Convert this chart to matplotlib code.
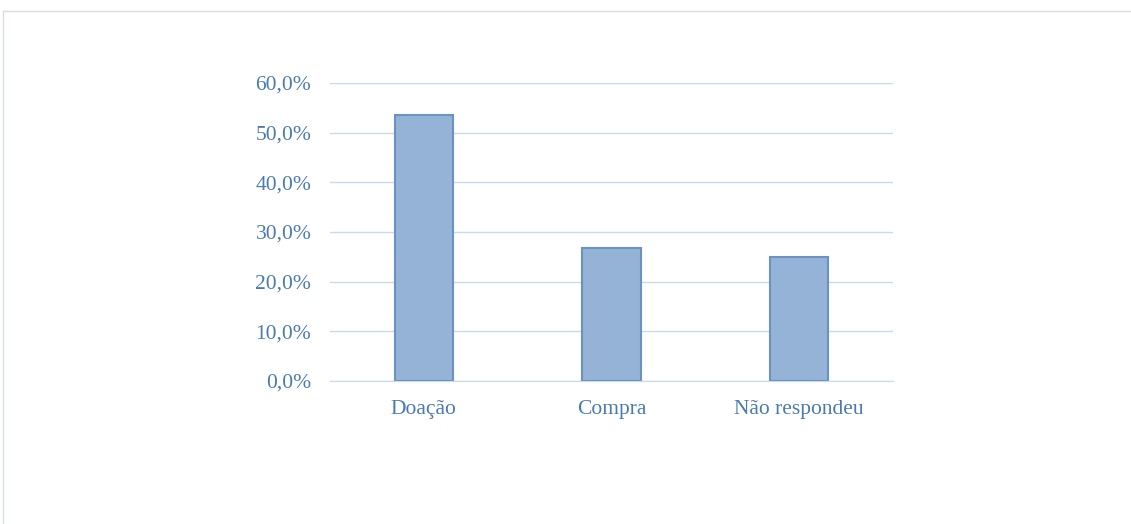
import matplotlib.pyplot as plt
from matplotlib.lines import Line2D
from matplotlib.ticker import FuncFormatter

categories = ["Doação", "Compra", "Não respondeu"]
values = [53.6, 26.8, 24.9]
yticks = [0, 10, 20, 30, 40, 50, 60]

TEXT = "#4A7AB2"
plt.rcParams["font.family"] = ["Liberation Serif", "DejaVu Serif"]

fig = plt.figure(figsize=(11.31, 5.24), dpi=100)
ax = fig.add_axes([0.2918, 0.2729, 0.4978, 0.5687])

ax.bar(range(len(categories)), values, width=0.31,
       color="#95B3D7", edgecolor="#6A92C2", linewidth=1.5, zorder=3)

ax.set_xlim(-0.5, 2.5)
ax.set_ylim(0, 60)
ax.set_yticks(yticks)
ax.yaxis.set_major_formatter(FuncFormatter(lambda v, p: f"{v:.1f}%".replace(".", ",")))
ax.set_xticks(range(len(categories)))
ax.set_xticklabels(categories)

ax.grid(axis="y", color="#C9DAEC", linewidth=1.0, zorder=0)
for s in ["top", "right", "left"]:
    ax.spines[s].set_visible(False)
ax.spines["bottom"].set_color("#C9DAEC")
ax.tick_params(axis="both", length=0, labelsize=15.5, colors=TEXT)
ax.tick_params(axis="y", pad=13.5)
ax.tick_params(axis="x", pad=14)

# outer chart frame
fig.add_artist(Line2D([3 / 1131, 1], [1 - 11 / 524, 1 - 11 / 524],
                      transform=fig.transFigure, color="#D9DEE4", linewidth=1))
fig.add_artist(Line2D([3 / 1131, 3 / 1131], [0, 1 - 11 / 524],
                      transform=fig.transFigure, color="#D9DEE4", linewidth=1))

fig.savefig("out.png", dpi=100)
plt.close(fig)
